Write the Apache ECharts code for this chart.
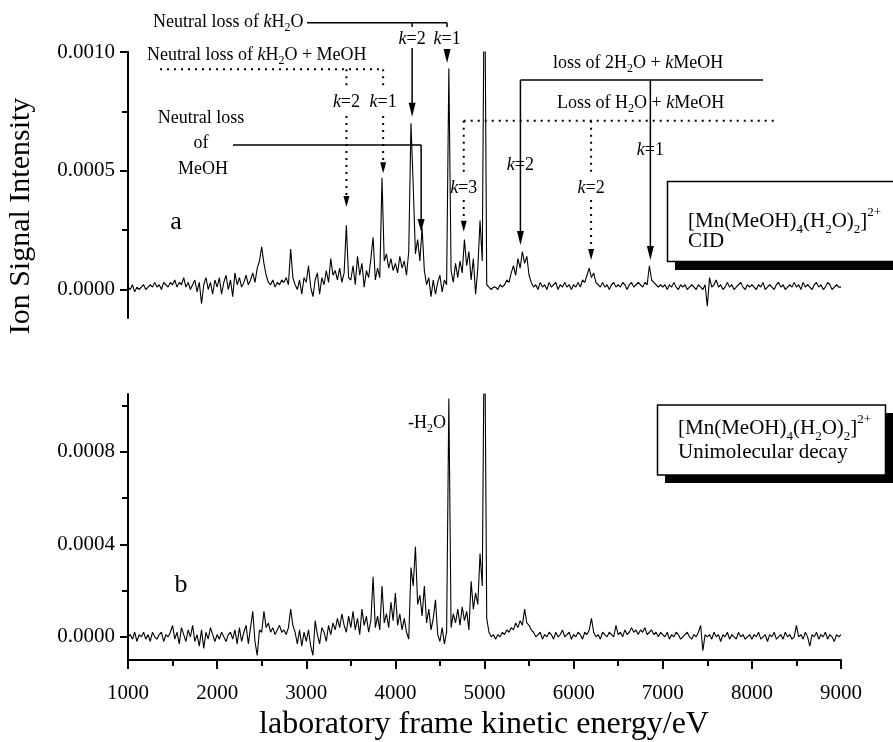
<!DOCTYPE html>
<html>
<head>
<meta charset="utf-8">
<script src="https://cdn.jsdelivr.net/npm/echarts@6/dist/echarts.min.js"></script>
<style>
  html, body { margin: 0; padding: 0; background: #fff; }
  #chart { width: 893px; height: 742px; }
</style>
</head>
<body>
<div id="chart"></div>
<script>
// spectra sampled every 25 eV from 1000 to 9000 eV, intensities in units of 1e-5
var energyStart = 1000;
var energyStep = 25;
var intensityUnit = 1e-5;

// panel a: CID
var cidSignal = [
  1, 0, 2, -1, 1, 0, 1, 2, 0, 1, 2, 1, 3, 1, 2, 0, 3, 2, 1, 3,
  2, 4, 1, 3, 2, 5, 1, 3, 0, 2, 4, -1, 3, -6, 2, 5, 0, 3, -2, 4,
  1, 5, -2, 3, 6, 0, 4, -3, 7, 2, 5, 1, 3, 6, 2, 4, 7, 3, 9, 12,
  18, 11, 6, 3, 2, 4, 1, 3, 2, 4, 3, 5, 2, 17, 5, 2, 0, 4, -2, 5,
  3, 10, 1, -3, 4, 7, -2, 5, 2, 8, 3, 13, 6, 8, 4, 9, 3, 7, 27, 5,
  4, 10, 2, 14, 6, 11, 1, 8, 5, 13, 22, 4, 9, 5, 47, 12, 15, 9, 13, 8,
  11, 7, 14, 9, 12, 6, 16, 70, 44, 15, 21, 12, 26, 8, 2, 5, -3, 4, -2, 3,
  6, -1, 4, 2, 93, 8, 3, 11, 5, 12, 7, 21, 10, 16, 4, 13, -2, 9, 29, 12,
  150, 2, 1, 0, 1, 1, 0, 2, 1, 2, 4, 3, 7, 10, 6, 13, 9, 16, 11, 14,
  6, 3, 1, 2, 0, 3, 1, 2, 0, 3, 1, 2, 3, 0, 2, 1, 3, 1, 2, 0,
  2, 1, 3, 1, 4, 3, 6, 9, 5, 7, 3, 2, 1, 3, 1, 2, 0, 2, 3, 1,
  2, 1, 3, 2, 0, 2, 3, 1, 2, 3, 2, 1, 3, 2, 10, 4, 3, 2, 1, 2,
  1, 2, 0, 2, 1, 3, 1, 0, 2, 1, 2, 0, 1, 2, 1, 0, 2, 1, 0, 2,
  -7, 5, 1, 2, 4, 1, 2, 0, 1, 3, 1, 2, 0, 1, 2, 3, 1, 0, 2, 1,
  2, 1, 0, 2, 1, 3, 0, 1, 2, 1, 0, 2, 3, 1, 2, 0, 1, 2, 1, 3,
  1, 2, 0, 3, 1, 2, 1, 0, 2, 3, 1, 2, 0, 1, 3, 2, 0, 1, 2, 1,
  1
];

// panel b: unimolecular decay
var uniSignal = [
  0, 1, -1, 2, -2, 1, 0, 2, -1, 1, -2, 2, 0, -1, 1, 2, -2, 1, 0, 2,
  5, -1, 2, -3, 4, 1, -2, 3, 0, 5, -2, 1, -4, 3, -5, 2, -1, 4, 1, -2,
  1, -1, 2, 0, -2, 1, 2, -1, 3, -3, 4, -2, 2, 5, -3, 4, 11, -2, -8, 3,
  2, 11, 4, 6, 2, 4, 1, 3, 5, 2, 3, 1, 4, 12, 5, 2, -3, 3, -4, 2,
  -2, 3, -4, -8, 7, 1, -3, 4, 2, -2, 5, 1, 6, 3, 8, 4, 10, 5, 2, 9,
  4, 11, 3, 8, 1, 12, 5, 9, 2, 7, 26, 4, 9, 3, 22, 6, 10, 4, 15, 7,
  19, 5, 10, 3, 8, 2, -1, 30, 22, 39, 14, 18, 9, 22, 6, 12, 3, 8, 16, 1,
  -2, 4, -3, 2, 103, 4, 10, 6, 12, 5, 13, 7, 11, 3, 24, 12, 19, 14, 36, 22,
  150, 8, 2, 0, 1, -1, 1, 0, 2, 1, 3, 2, 4, 3, 6, 4, 7, 5, 12, 6,
  5, 3, 2, 0, 1, 2, -1, 1, 0, 2, 1, -1, 2, 0, 1, 3, 0, 1, 2, -1,
  1, 0, 2, 1, -1, 2, 1, 3, 8, 2, 0, 1, -1, 2, 1, 0, 2, 1, 0, 5,
  1, 2, 0, 3, 1, 2, 4, 2, 3, 1, 3, 2, 4, 1, 2, 3, 1, 2, 0, 2,
  1, 0, 2, -1, 1, 0, 2, 1, -1, 0, 1, 2, 0, -1, 1, 0, 2, 5, -6, 1,
  0, 1, -1, 2, 0, 1, -2, 1, 0, 2, -1, 1, 0, -1, 2, 0, 1, -1, 0, 1,
  -1, 1, 0, 2, -1, 0, 1, -2, 1, 0, 2, -1, 0, 1, -1, 2, 0, 1, -1, 0,
  5, 0, 1, -1, 2, 0, -4, 1, 0, 2, -1, 1, 0, 2, -1, 1, 0, -2, 1, 0,
  1
];

// axis ticks / labels
var cidLabels = [0, 0.0005, 0.001];
var cidMinorTicks = [0.00025, 0.00075];
var uniLabels = [0, 0.0004, 0.0008];
var uniMinorTicks = [0.0002, 0.0006, 0.001];

// energies (eV) the annotation arrows point at
var lossH2O = { k2: 4188, k1: 4580 };
var lossH2OMeOH = { k2: 3451, k1: 3863 };
var lossMeOH = 4289;
var loss2H2OkMeOH = { k2: 5403, k1: 6861 };
var lossH2OkMeOH = { k3: 4767, k2: 6196 };

var serif = '"Liberation Serif", "Times New Roman", serif';

function toPairs(values) {
  return values.map(function (v, i) {
    return [energyStart + i * energyStep, v * intensityUnit];
  });
}

function fmt(v) {
  return v.toFixed(4);
}

var chart = echarts.init(document.getElementById('chart'));

function majorY(gridIndex, min, max, labels) {
  return {
    type: 'value', gridIndex: gridIndex, min: min, max: max, position: 'left',
    splitLine: { show: false },
    axisLine: { show: true, onZero: false, lineStyle: { color: '#000', width: 2 } },
    axisTick: { show: true, customValues: labels, length: 8, lineStyle: { color: '#000', width: 2 } },
    axisLabel: {
      customValues: labels, formatter: fmt, margin: 13,
      color: '#000', fontFamily: serif, fontSize: 21
    }
  };
}

function minorY(gridIndex, min, max, ticks) {
  return {
    type: 'value', gridIndex: gridIndex, min: min, max: max, position: 'left', offset: 0,
    splitLine: { show: false },
    axisLine: { show: false, onZero: false },
    axisTick: { show: true, customValues: ticks, length: 6, lineStyle: { color: '#000', width: 2 } },
    axisLabel: { show: false }
  };
}

var option = {
  animation: false,
  backgroundColor: '#fff',
  grid: [
    { left: 128, top: 52, width: 713, height: 266 },
    { left: 128, top: 394, width: 713, height: 266 }
  ],
  xAxis: [
    { type: 'value', gridIndex: 0, min: 1000, max: 9000, show: false },
    {
      type: 'value', gridIndex: 1, min: 1000, max: 9000, interval: 1000, position: 'bottom',
      splitLine: { show: false },
      axisLine: { onZero: false, lineStyle: { color: '#000', width: 2 } },
      axisTick: { length: 9, lineStyle: { color: '#000', width: 2 } },
      minorTick: { show: true, splitNumber: 2, length: 6, lineStyle: { color: '#000', width: 2 } },
      axisLabel: {
        color: '#000', fontFamily: serif, fontSize: 21, margin: 23,
        formatter: function (v) { return String(v); }
      }
    }
  ],
  yAxis: [
    majorY(0, -0.00012, 0.001, cidLabels),
    minorY(0, -0.00012, 0.001, cidMinorTicks),
    majorY(1, -0.0001, 0.00105, uniLabels),
    minorY(1, -0.0001, 0.00105, uniMinorTicks)
  ],
  series: [
    {
      name: 'CID', type: 'line', xAxisIndex: 0, yAxisIndex: 0,
      data: toPairs(cidSignal), showSymbol: false, clip: true,
      lineStyle: { color: '#000', width: 1.1 }
    },
    {
      name: 'Unimolecular decay', type: 'line', xAxisIndex: 1, yAxisIndex: 2,
      data: toPairs(uniSignal), showSymbol: false, clip: true,
      lineStyle: { color: '#000', width: 1.1 }
    }
  ]
};
chart.setOption(option);

// ---- annotations (lines, arrows, texts, boxes) ----
var rich = {
  n: { fontFamily: serif, fontSize: 18, lineHeight: 24, color: '#000' },
  i: { fontFamily: serif, fontSize: 18, lineHeight: 24, fontStyle: 'italic', color: '#000' },
  s: { fontFamily: serif, fontSize: 12, lineHeight: 12, verticalAlign: 'bottom', color: '#000' },
  L: { fontFamily: serif, fontSize: 21, lineHeight: 30, color: '#000' },
  ls: { fontFamily: serif, fontSize: 13, lineHeight: 13, verticalAlign: 'bottom', color: '#000' },
  lp: { fontFamily: serif, fontSize: 13, lineHeight: 13, verticalAlign: 'top', color: '#000' },
  big: { fontFamily: serif, fontSize: 26, lineHeight: 30, color: '#000' },
  title: { fontFamily: serif, fontSize: 30, lineHeight: 34, color: '#000' },
  xtitle: { fontFamily: serif, fontSize: 32, lineHeight: 36, color: '#000' }
};

function px(energy) {
  return chart.convertToPixel({ xAxisIndex: 0 }, energy);
}

function text(x, y, str, align, extra) {
  var el = {
    type: 'text', x: x, y: y, z: 20,
    style: {
      text: str, rich: rich,
      align: align || 'left', verticalAlign: 'middle',
      textAlign: align || 'left', textVerticalAlign: 'middle'
    }
  };
  if (extra) { for (var k in extra) el[k] = extra[k]; }
  return el;
}

function line(x1, y1, x2, y2, dotted) {
  return {
    type: 'line', z: 15,
    shape: { x1: x1, y1: y1, x2: x2, y2: y2 },
    style: dotted
      ? { stroke: '#000', lineWidth: 2, lineDash: [2, 5] }
      : { stroke: '#000', lineWidth: 1.5 }
  };
}

function head(x, tipY, len, halfW) {
  return {
    type: 'polygon', z: 15,
    shape: { points: [[x - halfW, tipY - len], [x + halfW, tipY - len], [x, tipY]] },
    style: { fill: '#000' }
  };
}

var g = [];

// neutral loss of kH2O
var a2 = px(lossH2O.k2), a1 = px(lossH2O.k1);
g.push(text(153, 22, '{n|Neutral loss of }{i|k}{n|H}{s|2}{n|O}'));
g.push(line(307, 22.7, a1, 22.7));
g.push(line(a2, 22.7, a2, 27), line(a1, 22.7, a1, 27));
g.push(text(a2, 39, '{i|k}{n|=2}', 'center'), text(a1, 39, '{i|k}{n|=1}', 'center'));
g.push(line(a2, 48, a2, 104), head(a2, 116.7, 14, 3.5));
g.push(head(a1, 63, 14, 3.5));

// neutral loss of kH2O + MeOH (dotted)
var b2 = px(lossH2OMeOH.k2), b1 = px(lossH2OMeOH.k1);
g.push(text(147, 55, '{n|Neutral loss of }{i|k}{n|H}{s|2}{n|O + MeOH}'));
g.push(line(160, 69.3, b1, 69.3, true));
g.push(line(b2, 69.3, b2, 90, true), line(b1, 69.3, b1, 90, true));
g.push(text(b2, 102, '{i|k}{n|=2}', 'center'), text(b1, 102, '{i|k}{n|=1}', 'center'));
g.push(line(b2, 116, b2, 197, true), head(b2, 207, 11, 3));
g.push(line(b1, 116, b1, 163, true), head(b1, 173.3, 11, 3));

// neutral loss of MeOH
var m = px(lossMeOH);
g.push(text(201, 118, '{n|Neutral loss}', 'center'));
g.push(text(201, 143, '{n|of}', 'center'));
g.push(text(203, 169, '{n|MeOH}', 'center'));
g.push(line(233, 145, m, 145), line(m, 145, m, 220), head(m, 232, 13, 3.5));

// loss of 2H2O + kMeOH
var c2 = px(loss2H2OkMeOH.k2), c1 = px(loss2H2OkMeOH.k1);
g.push(text(553, 63, '{n|loss of 2H}{s|2}{n|O + }{i|k}{n|MeOH}'));
g.push(text(c2, 165, '{i|k}{n|=2}', 'center'), text(c1, 150, '{i|k}{n|=1}', 'center'));
g.push(line(c2, 80, 763, 80));
g.push(line(c2, 80, c2, 232), head(c2, 245, 14, 3.5));
g.push(line(c1, 80, c1, 247), head(c1, 260, 14, 3.5));

// loss of H2O + kMeOH (dotted)
var d3 = px(lossH2OkMeOH.k3), d2 = px(lossH2OkMeOH.k2);
g.push(text(557, 103, '{n|Loss of H}{s|2}{n|O + }{i|k}{n|MeOH}'));
g.push(line(d3, 120.7, 775, 120.7, true));
g.push(line(d3, 120.7, d3, 176, true), line(d2, 120.7, d2, 176, true));
g.push(text(d3, 188, '{i|k}{n|=3}', 'center'), text(d2, 188, '{i|k}{n|=2}', 'center'));
g.push(line(d3, 200, d3, 221, true), head(d3, 231.7, 11, 3));
g.push(line(d2, 200, d2, 249, true), head(d2, 260, 11, 3));

// panel letters, -H2O
g.push(text(176, 222, '{big|a}', 'center'));
g.push(text(181, 585, '{big|b}', 'center'));
g.push(text(446, 423, '{n|-H}{s|2}{n|O}', 'right'));

// legend boxes with drop shadow
var formula = '{L|[Mn(MeOH)}{ls|4}{L|(H}{ls|2}{L|O)}{ls|2}{L|]}{lp|2+}';
g.push({ type: 'rect', z: 12, shape: { x: 675, y: 189, width: 230, height: 81 }, style: { fill: '#000' } });
g.push({ type: 'rect', z: 13, shape: { x: 667.5, y: 181.5, width: 230, height: 80 }, style: { fill: '#fff', stroke: '#000', lineWidth: 1.5 } });
g.push(text(688, 221, formula));
g.push(text(688, 241, '{L|CID}'));

g.push({ type: 'rect', z: 12, shape: { x: 665, y: 413, width: 228, height: 70 }, style: { fill: '#000' } });
g.push({ type: 'rect', z: 13, shape: { x: 657.5, y: 405, width: 228, height: 70 }, style: { fill: '#fff', stroke: '#000', lineWidth: 1.5 } });
g.push(text(678, 428, formula));
g.push(text(678, 452, '{L|Unimolecular decay}'));

// axis titles
g.push(text(21, 216, '{title|Ion Signal Intensity}', 'center', { rotation: Math.PI / 2 }));
g.push(text(484, 725, '{xtitle|laboratory frame kinetic energy/eV}', 'center'));

chart.setOption({ graphic: g });
</script>
</body>
</html>
